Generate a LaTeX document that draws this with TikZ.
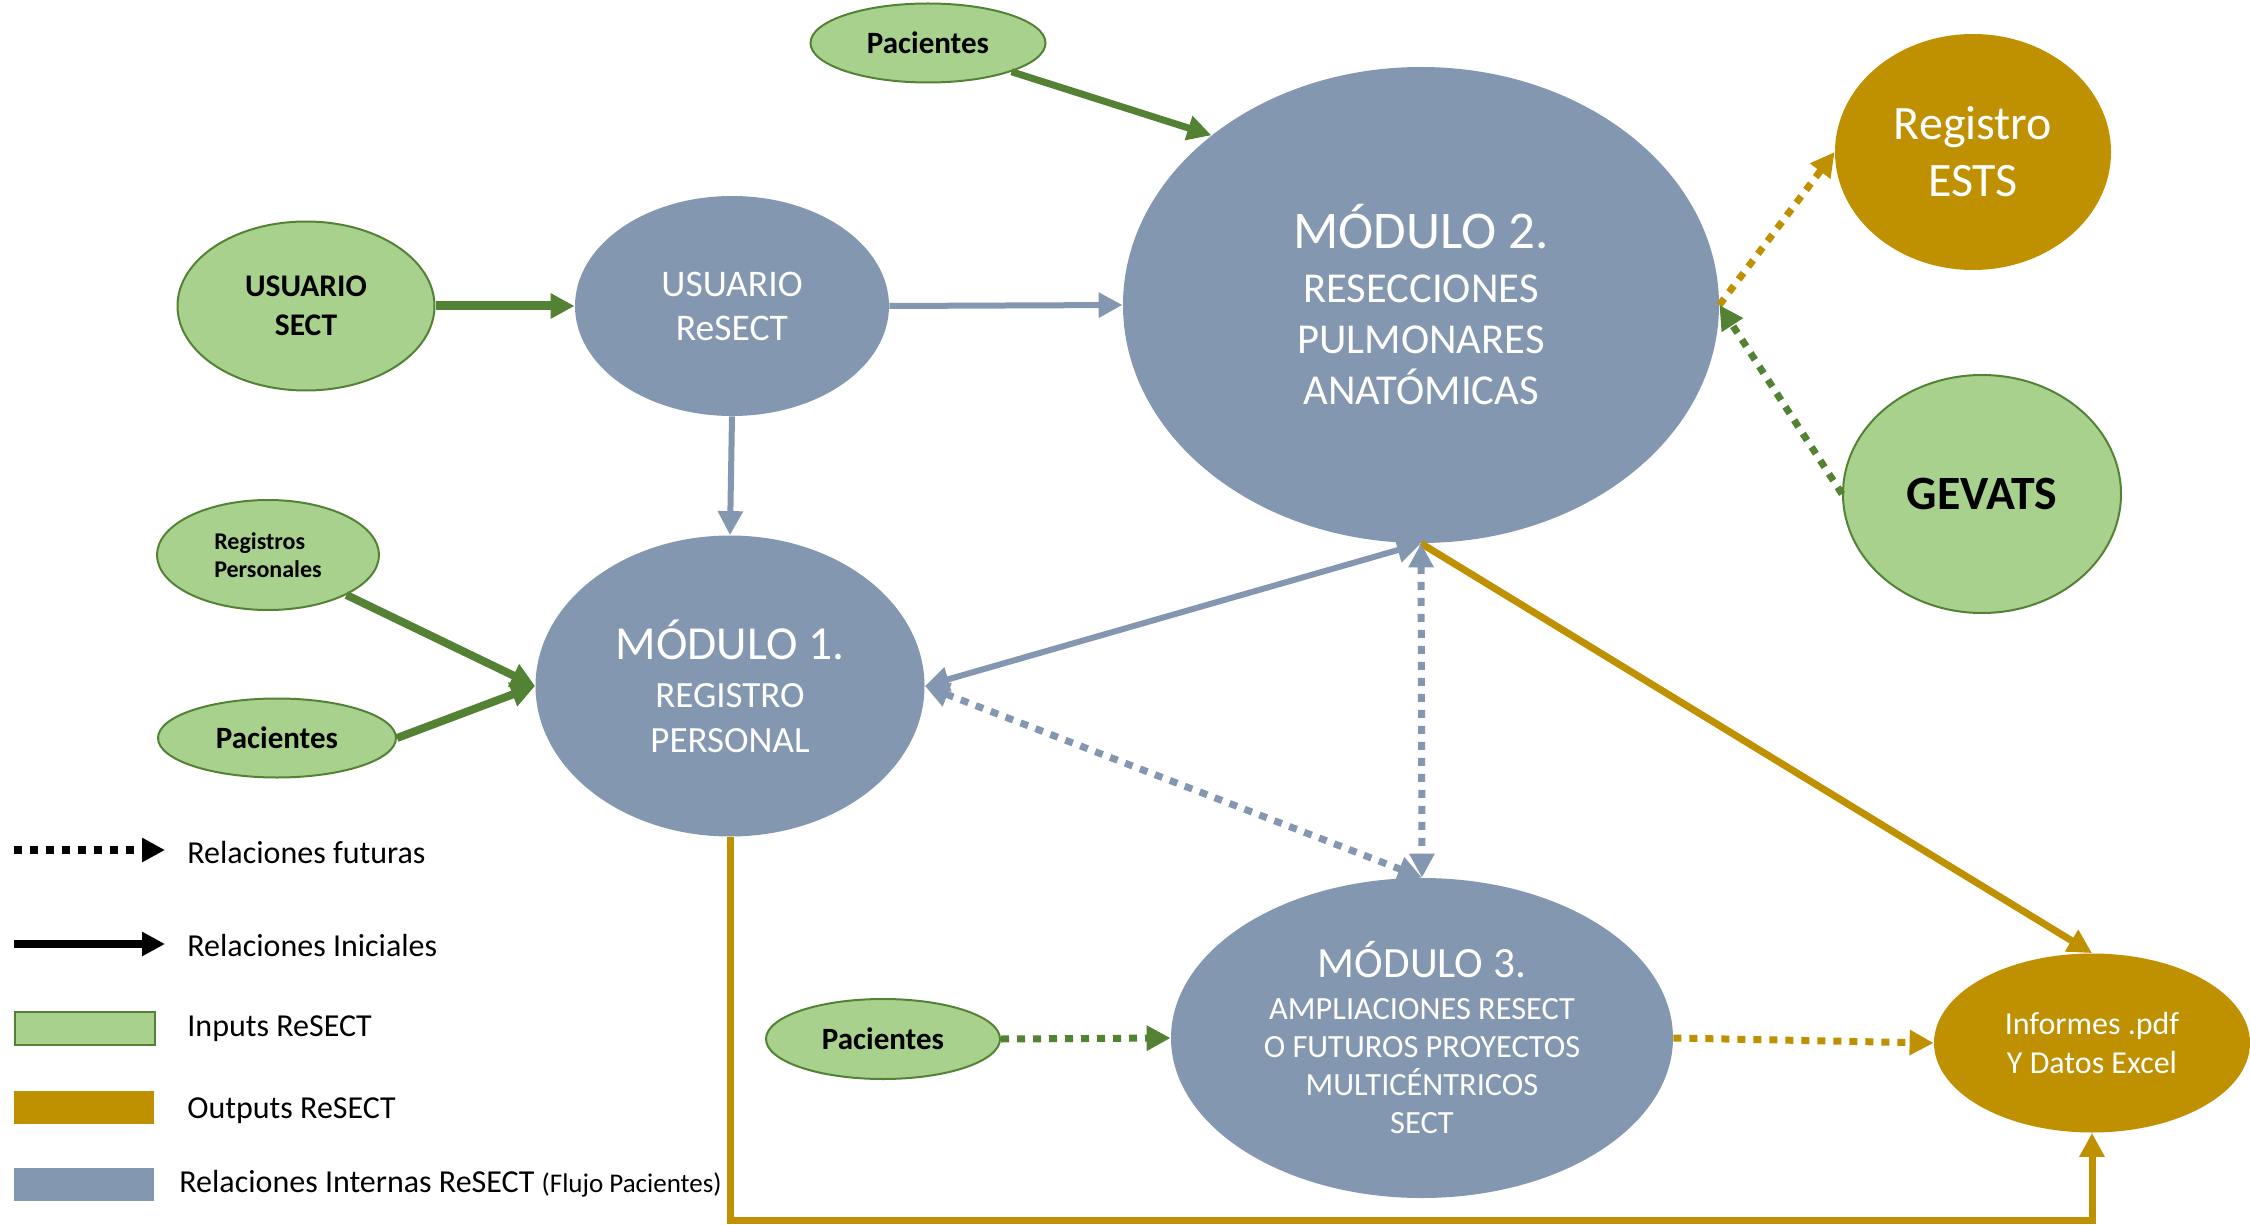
\documentclass[tikz,border=0pt]{standalone}
\usepackage{fontspec}
\setmainfont{Carlito}
\usepackage{tikz}
\usetikzlibrary{arrows.meta,shapes.geometric}
\definecolor{grisazul}{RGB}{132,151,176}
\definecolor{verdeclaro}{RGB}{169,209,142}
\definecolor{verdeoscuro}{RGB}{84,130,53}
\definecolor{ocre}{RGB}{191,144,0}
\newcommand{\tamano}[2]{\fontsize{#1}{#2}\selectfont}

\begin{document}
\begin{tikzpicture}[x=0.5pt,y=0.5pt,yscale=-1,xscale=1,
  modulo/.style={ellipse,fill=grisazul,text=white,inner sep=0pt,align=center},
  entrada/.style={ellipse,fill=verdeclaro,draw=verdeoscuro,line width=1pt,inner sep=0pt,align=center},
  salida/.style={ellipse,fill=ocre,text=white,inner sep=0pt,align=center},
  punta/.style={-{Triangle[length=12pt,width=12pt]}},
  dospuntas/.style={{Triangle[length=12pt,width=12pt]}-{Triangle[length=12pt,width=12pt]}},
  puntos/.style={line width=3.5pt,dash pattern=on 4pt off 4pt},
  leyenda/.style={anchor=west,inner sep=0pt,font=\tamano{16}{19}},
  caja/.style={rectangle,minimum width=70pt,minimum height=16.5pt,inner sep=0pt,anchor=west}]
\useasboundingbox (0,0) rectangle (2250,1225);

%Shape: Ellipse - modulos
\node[modulo,minimum width=157pt,minimum height=110pt,font=\tamano{18.8}{22}] (uresect) at (732,306) {USUARIO\\ReSECT};
\node[modulo,minimum width=298pt,minimum height=238pt,font=\tamano{21.3}{25.5}] (m2) at (1421,305)
  {{\tamano{26.5}{30}MÓDULO 2.}\\[1.5pt]RESECCIONES\\PULMONARES\\ANATÓMICAS};
\node[modulo,minimum width=194.5pt,minimum height=150.5pt,font=\tamano{18.5}{22.5}] (m1) at (730,686)
  {{\tamano{23.7}{27}MÓDULO 1.}\\[1.5pt]REGISTRO\\PERSONAL};
\node[modulo,minimum width=251pt,minimum height=160pt,font=\tamano{16.2}{19}] (m3) at (1422,1038)
  {{\tamano{21.6}{23}MÓDULO 3.}\\[2pt]AMPLIACIONES RESECT\\O FUTUROS PROYECTOS\\MULTICÉNTRICOS\\SECT};

%Shape: Ellipse - entradas
\node[entrada,minimum width=117.5pt,minimum height=39.5pt,font=\bfseries\tamano{15.5}{18}] (pacA) at (928,43) {Pacientes};
\node[entrada,minimum width=128.5pt,minimum height=84.5pt,font=\bfseries\tamano{15.75}{19.5}] (usect) at (306,306) {USUARIO\\SECT};
\node[entrada,minimum width=111pt,minimum height=55pt,align=left,font=\bfseries\tamano{12}{14}] (regpers) at (268,555) {Registros\\Personales};
\node[entrada,minimum width=119pt,minimum height=39.5pt,font=\bfseries\tamano{15.5}{18}] (pacB) at (277,738) {Pacientes};
\node[entrada,minimum width=117pt,minimum height=40pt,font=\bfseries\tamano{15.5}{18}] (pacC) at (883,1039) {Pacientes};
\node[entrada,minimum width=139pt,minimum height=119pt,font=\bfseries\tamano{23.9}{26}] (gevats) at (1982,494) {GEVATS};

%Shape: Ellipse - salidas
\node[salida,minimum width=138pt,minimum height=118pt,font=\tamano{24}{28.5}] (ests) at (1973,152) {Registro\\ESTS};
\node[salida,minimum width=158pt,minimum height=89.5pt,font=\tamano{16}{19.5}] (inf) at (2092,1043) {Informes .pdf\\Y Datos Excel};

%Relaciones iniciales
\draw[verdeoscuro,line width=4.5pt,punta] (usect.east) -- (uresect.west);
\draw[verdeoscuro,line width=3.5pt,punta] (pacA.-19) -- (m2.141);
\draw[verdeoscuro,line width=4pt,punta] (regpers.-27) -- (m1.west);
\draw[verdeoscuro,line width=4pt,punta] (pacB.east) -- (m1.west);
\draw[grisazul,line width=3pt,punta] (uresect.east) -- (m2.west);
\draw[grisazul,line width=3pt,punta] (uresect.south) -- (m1.north);
\draw[grisazul,line width=3pt,dospuntas] (m2.south) -- (m1.east);
\draw[ocre,line width=3.5pt,punta] (m2.south) -- (inf.north);
\draw[ocre,line width=3.5pt,punta] (m1.south) -- ++(0,384) -| (inf.south);

%Relaciones futuras
\draw[grisazul,puntos,dospuntas] (m1.east) -- (m3.north);
\draw[grisazul,puntos,dospuntas] (m2.south) -- (m3.north);
\draw[ocre,puntos,punta] (m2.east) -- (ests.west);
\draw[verdeoscuro,puntos,punta] (gevats.west) -- (m2.east);
\draw[verdeoscuro,puntos,punta] (pacC.east) -- (m3.west);
\draw[ocre,puntos,punta] (m3.east) -- (inf.west);

%Leyenda
\coordinate (lfa) at (14,850);
\coordinate (lfb) at (165,850);
\coordinate (lia) at (14,944);
\coordinate (lib) at (165,944);
\draw[black,line width=4pt,dash pattern=on 4pt off 4pt,-{Triangle[length=11.5pt,width=11.5pt]}] (lfa) -- (lfb);
\draw[black,line width=4pt,-{Triangle[length=11.5pt,width=11.5pt]}] (lia) -- (lib);
\node[caja,fill=verdeclaro,draw=verdeoscuro,line width=1pt] (cin) at (14,1028) {};
\node[caja,fill=ocre] (cout) at (14,1107) {};
\node[caja,fill=grisazul] (cint) at (14,1184) {};

% Text Node
\node[leyenda] (tfut) at (187,853) {Relaciones futuras};
\node[leyenda] (tini) at (187,946) {Relaciones Iniciales};
\node[leyenda] (tin) at (187,1029) {Inputs ReSECT};
\node[leyenda] (tout) at (187,1111) {Outputs ReSECT};
\node[leyenda] (tint) at (179,1184) {Relaciones Internas ReSECT {\tamano{13.5}{15}(Flujo Pacientes)}};
\end{tikzpicture}
\end{document}
